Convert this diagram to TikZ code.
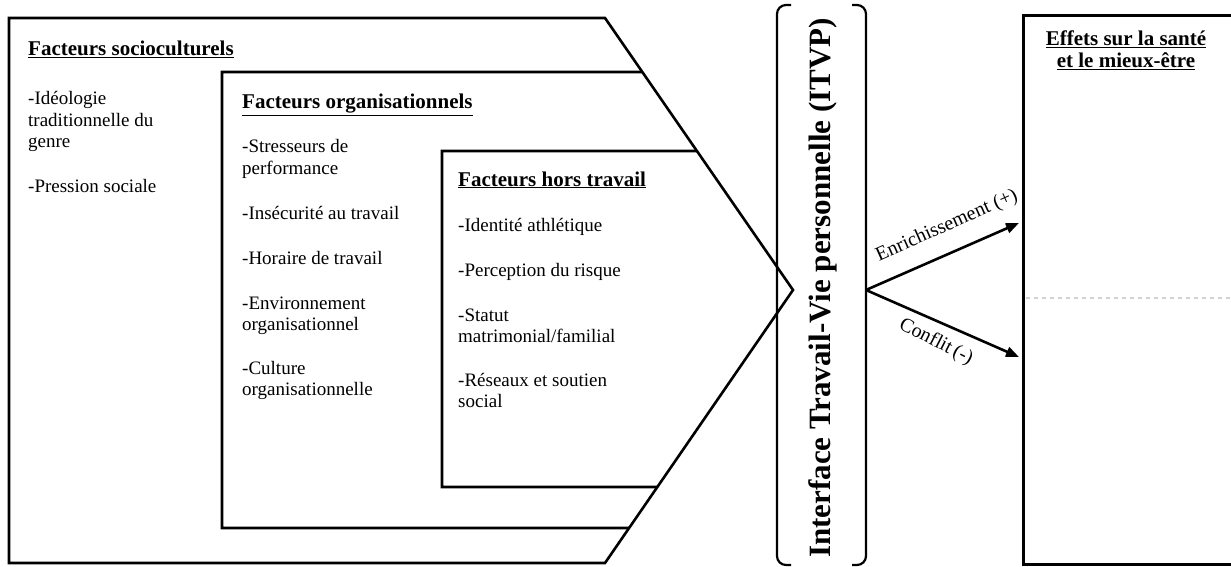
\documentclass[tikz,border=0pt]{standalone}
\usepackage{fontspec}
\setmainfont{Liberation Serif}
\usetikzlibrary{arrows.meta,calc}
% stacked lines whose reference point is the first baseline
\newcommand{\stackL}[1]{\begin{tabular}[t]{@{}l@{}}#1\end{tabular}}
\newcommand{\stackC}[1]{\begin{tabular}[t]{@{}c@{}}#1\end{tabular}}
\begin{document}
\begin{tikzpicture}[x=1pt,y=-1pt,
  frame/.style={line width=2.6pt,line join=miter},
  head/.style={anchor=base west,inner sep=0pt,font=\fontsize{21}{22}\selectfont\bfseries},
  item/.style={anchor=base west,inner sep=0pt,font=\fontsize{19}{21.5}\selectfont},
  link/.style={line width=2.6pt,-{Triangle[length=13pt,width=10pt]}},
  tag/.style={inner sep=0pt,font=\fontsize{20}{21}\selectfont}]
\useasboundingbox (0,0) rectangle (1231,567);
\clip (0,0) rectangle (1231,567);

% outer arrow-shaped frame
\coordinate (oTL) at (9,18);
\coordinate (oTR) at (605,18);
\coordinate (apex) at (793,290);
\coordinate (oBR) at (605,563);
\coordinate (oBL) at (9,563);
\draw[frame] (oTL) -- (oTR) -- (apex) -- (oBR) -- (oBL) -- cycle;

% organisational frame (open on the right, ending on the diagonals)
\draw[frame] (intersection of oTR--apex and 0,72--1,72) -- (222,72) -- (222,528)
  -- (intersection of apex--oBR and 0,528--1,528);

% non-work frame
\draw[frame] (intersection of oTR--apex and 0,151--1,151) -- (442,151) -- (442,487)
  -- (intersection of apex--oBR and 0,487--1,487);

% socio-cultural factors
\node[head] (socioH) at (28,56) {\underline{Facteurs socioculturels}};
\node[item] (socio1) at (28,105) {\stackL{-Idéologie\\traditionnelle du\\genre}};
\node[item] (socio2) at (28,192) {-Pression sociale};

% organisational factors
\node[head] (orgH) at (242,109) {\underline{Facteurs organisationnels}};
\node[item] (org1) at (242,153) {\stackL{-Stresseurs de\\performance}};
\node[item] (org2) at (242,219) {-Insécurité au travail};
\node[item] (org3) at (242,264) {-Horaire de travail};
\node[item] (org4) at (242,309) {\stackL{-Environnement\\organisationnel}};
\node[item] (org5) at (242,374) {\stackL{-Culture\\organisationnelle}};

% non-work factors
\node[head] (horsH) at (458,186) {\underline{Facteurs hors travail}};
\node[item] (hors1) at (458,231) {-Identité athlétique};
\node[item] (hors2) at (458,276) {-Perception du risque};
\node[item] (hors3) at (458,321) {\stackL{-Statut\\matrimonial/familial}};
\node[item] (hors4) at (458,386) {\stackL{-Réseaux et soutien\\social}};

% interface bracket
\draw[line width=2.2pt,rounded corners=9pt] (791,5) -- (777,5) -- (777,565) -- (791,565);
\draw[line width=2.2pt,rounded corners=9pt] (852,5) -- (866,5) -- (866,565) -- (852,565);
\node[rotate=90,anchor=base,inner sep=0pt,font=\fontsize{31}{33}\selectfont\bfseries] (itvp) at (830,288)
  {Interface Travail-Vie personnelle (ITVP)};
\coordinate (src) at (866,290);

% health effects box
\node[draw,line width=2.6pt,anchor=north west,minimum width=240pt,minimum height=549pt,inner sep=0pt] (effets) at (1022,14) {};
\node[anchor=base,inner sep=0pt,font=\fontsize{21}{21}\selectfont\bfseries] (effetsH) at (1126,46)
  {\stackC{\underline{Effets sur la santé}\\\underline{et le mieux-être}}};
\draw[gray!35,line width=1.5pt,dash pattern=on 4pt off 4pt] (1026,298) -- (1231,298);

% outcome arrows
\coordinate (toPlus) at (1019,223);
\coordinate (toMinus) at (1019,357);
\draw[link] (src) -- (toPlus);
\draw[link] (src) -- (toMinus);
\node[tag,rotate=24] (plusL) at (947,226) {Enrichissement (+)};
\node[tag,rotate=-27] (minusL) at (936,342) {Conflit\,(-)};
\end{tikzpicture}
\end{document}
